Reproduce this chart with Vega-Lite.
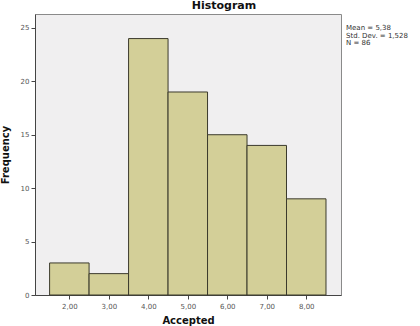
{
  "$schema": "https://vega.github.io/schema/vega-lite/v6.json",
  "width": 306,
  "height": 281,
  "autosize": {"type": "none"},
  "padding": {"left": 35, "top": 14, "right": 79, "bottom": 31},
  "background": "white",
  "title": {
    "text": "Histogram",
    "anchor": "middle",
    "frame": "group",
    "dx": 36,
    "offset": -6,
    "fontSize": 11,
    "fontWeight": "bold",
    "font": "DejaVu Sans",
    "color": "#111111",
    "baseline": "alphabetic"
  },
  "config": {
    "view": {"fill": "#f0eff0", "stroke": "#8a8a8a", "strokeWidth": 1},
    "axis": {
      "labelFont": "DejaVu Sans",
      "labelFontSize": 7,
      "labelColor": "#555555",
      "titleFont": "DejaVu Sans",
      "titleFontSize": 10,
      "titleFontWeight": "bold",
      "titleColor": "#111111",
      "domainColor": "#444444",
      "tickColor": "#444444",
      "tickSize": 4,
      "grid": false
    }
  },
  "data": {
    "values": [
      {"start": 1.5, "end": 2.5, "count": 3},
      {"start": 2.5, "end": 3.5, "count": 2},
      {"start": 3.5, "end": 4.5, "count": 24},
      {"start": 4.5, "end": 5.5, "count": 19},
      {"start": 5.5, "end": 6.5, "count": 15},
      {"start": 6.5, "end": 7.5, "count": 14},
      {"start": 7.5, "end": 8.5, "count": 9}
    ]
  },
  "layer": [
    {
      "mark": {"type": "bar", "fill": "#d3cf98", "stroke": "#3b3a2c", "strokeWidth": 1},
      "encoding": {
        "x": {
          "field": "start",
          "type": "quantitative",
          "scale": {"domain": [1.13, 8.88], "nice": false, "zero": false},
          "axis": {
            "values": [2, 3, 4, 5, 6, 7, 8],
            "labelExpr": "replace(format(datum.value, '.2f'), '.', ',')",
            "title": "Accepted",
            "titlePadding": 6,
            "labelPadding": 3
          }
        },
        "x2": {"field": "end"},
        "y": {
          "field": "count",
          "type": "quantitative",
          "scale": {"domain": [0, 26.3], "nice": false},
          "axis": {
            "values": [0, 5, 10, 15, 20, 25],
            "title": "Frequency",
            "titlePadding": 10,
            "labelPadding": 2
          }
        },
        "y2": {"datum": 0}
      }
    },
    {
      "data": {"values": [{"label": "Mean = 5,38\nStd. Dev. = 1,528\nN = 86", "xpos": 8.88, "ypos": 26.3}]},
      "mark": {
        "type": "text",
        "align": "left",
        "baseline": "top",
        "lineBreak": "\n",
        "dx": 5,
        "dy": 10,
        "font": "DejaVu Sans",
        "fontSize": 7,
        "lineHeight": 7.5,
        "color": "#333333",
        "clip": false
      },
      "encoding": {
        "x": {"field": "xpos", "type": "quantitative"},
        "y": {"field": "ypos", "type": "quantitative"},
        "text": {"field": "label"}
      }
    }
  ]
}
